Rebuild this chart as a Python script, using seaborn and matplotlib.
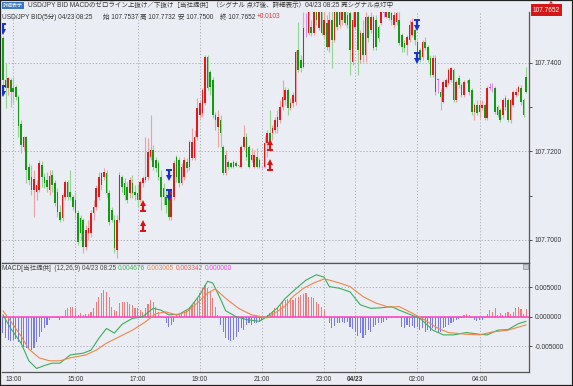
import numpy as np
import pandas as pd
import matplotlib
matplotlib.use('Agg')
import matplotlib.pyplot as plt
import matplotlib.patches as mpatches
import seaborn as sns

# 5-minute USD/JPY BID candles, first bar 04/22 12:40
opens = [107.7455, 107.7361, 107.7343, 107.7361, 107.7343, 107.7345, 107.7322, 107.7261, 107.7210, 107.7232,
         107.7164, 107.7142, 107.7113, 107.7108, 107.7113, 107.7169, 107.7142, 107.7135, 107.7113, 107.7146,
         107.7128, 107.7108, 107.7063, 107.7049, 107.7097, 107.7131, 107.7108, 107.7097, 107.7090, 107.7061,
         107.7049, 107.7045, 107.6984, 107.7016, 107.7016, 107.7061, 107.7074, 107.7097, 107.7124, 107.7142,
         107.7151, 107.7106, 107.7067, 107.7045, 107.6977, 107.7045, 107.7142, 107.7128, 107.7119, 107.7106,
         107.7128, 107.7108, 107.7106, 107.7090, 107.7128, 107.7135, 107.7142, 107.7187, 107.7203, 107.7180,
         107.7173, 107.7142, 107.7117, 107.7097, 107.7095, 107.7052, 107.7097, 107.7187, 107.7180, 107.7128,
         107.7142, 107.7176, 107.7164, 107.7185, 107.7185, 107.7232, 107.7282, 107.7286, 107.7309, 107.7412,
         107.7379, 107.7361, 107.7282, 107.7255, 107.7270, 107.7210, 107.7151, 107.7176, 107.7173, 107.7176,
         107.7173, 107.7167, 107.7164, 107.7210, 107.7232, 107.7210, 107.7180, 107.7164, 107.7187, 107.7180,
         107.7164, 107.7164, 107.7219, 107.7241, 107.7241, 107.7248, 107.7255, 107.7270, 107.7300, 107.7316,
         107.7338, 107.7297, 107.7309, 107.7311, 107.7428, 107.7406, 107.7390, 107.7473, 107.7467, 107.7480,
         107.7467, 107.7514, 107.7478, 107.7514, 107.7462, 107.7489, 107.7435, 107.7496, 107.7451, 107.7514,
         107.7485, 107.7496, 107.7514, 107.7507, 107.7512, 107.7401, 107.7480, 107.7514, 107.7406, 107.7467,
         107.7417, 107.7503, 107.7473, 107.7433, 107.7496, 107.7480, 107.7489, 107.7512, 107.7503, 107.7514,
         107.7512, 107.7485, 107.7491, 107.7496, 107.7462, 107.7444, 107.7440, 107.7451, 107.7462, 107.7473,
         107.7446, 107.7428, 107.7412, 107.7446, 107.7435, 107.7410, 107.7372, 107.7410, 107.7361, 107.7334,
         107.7311, 107.7345, 107.7354, 107.7361, 107.7383, 107.7316, 107.7365, 107.7349, 107.7327, 107.7358,
         107.7361, 107.7338, 107.7288, 107.7304, 107.7288, 107.7297, 107.7304, 107.7275, 107.7343, 107.7349,
         107.7343, 107.7300, 107.7293, 107.7282, 107.7320, 107.7316, 107.7270, 107.7304, 107.7327, 107.7334,
         107.7343, 107.7316, 107.7367]
closes = [107.7361, 107.7343, 107.7365, 107.7334, 107.7334, 107.7322, 107.7257, 107.7214, 107.7232, 107.7158,
          107.7135, 107.7113, 107.7137, 107.7124, 107.7173, 107.7142, 107.7128, 107.7119, 107.7144, 107.7124,
          107.7083, 107.7063, 107.7045, 107.7101, 107.7131, 107.7097, 107.7097, 107.7074, 107.7061, 107.6995,
          107.7016, 107.6984, 107.7022, 107.7027, 107.7061, 107.7074, 107.7117, 107.7142, 107.7151, 107.7153,
          107.7106, 107.7040, 107.7045, 107.6982, 107.7045, 107.7146, 107.7119, 107.7101, 107.7090, 107.7135,
          107.7106, 107.7101, 107.7090, 107.7131, 107.7140, 107.7142, 107.7198, 107.7203, 107.7164, 107.7162,
          107.7142, 107.7097, 107.7097, 107.7079, 107.7052, 107.7113, 107.7173, 107.7142, 107.7128, 107.7164,
          107.7180, 107.7162, 107.7221, 107.7221, 107.7232, 107.7297, 107.7309, 107.7338, 107.7412, 107.7343,
          107.7345, 107.7282, 107.7270, 107.7277, 107.7241, 107.7151, 107.7192, 107.7164, 107.7164, 107.7164,
          107.7167, 107.7167, 107.7210, 107.7232, 107.7187, 107.7164, 107.7192, 107.7192, 107.7164, 107.7164,
          107.7164, 107.7219, 107.7241, 107.7221, 107.7252, 107.7270, 107.7277, 107.7300, 107.7322, 107.7338,
          107.7297, 107.7309, 107.7327, 107.7424, 107.7383, 107.7388, 107.7478, 107.7473, 107.7514, 107.7467,
          107.7514, 107.7496, 107.7514, 107.7467, 107.7496, 107.7435, 107.7496, 107.7451, 107.7514, 107.7480,
          107.7514, 107.7514, 107.7489, 107.7485, 107.7428, 107.7496, 107.7514, 107.7428, 107.7467, 107.7417,
          107.7503, 107.7455, 107.7503, 107.7503, 107.7435, 107.7455, 107.7514, 107.7512, 107.7514, 107.7500,
          107.7496, 107.7507, 107.7512, 107.7444, 107.7435, 107.7433, 107.7458, 107.7485, 107.7491, 107.7451,
          107.7421, 107.7406, 107.7446, 107.7433, 107.7406, 107.7372, 107.7410, 107.7334, 107.7361, 107.7322,
          107.7356, 107.7361, 107.7383, 107.7388, 107.7316, 107.7356, 107.7349, 107.7327, 107.7356, 107.7358,
          107.7334, 107.7288, 107.7304, 107.7286, 107.7304, 107.7304, 107.7275, 107.7343, 107.7343, 107.7349,
          107.7288, 107.7282, 107.7270, 107.7316, 107.7300, 107.7270, 107.7316, 107.7334, 107.7334, 107.7345,
          107.7311, 107.7282, 107.7334]
highs = [107.7460, 107.7399, 107.7367, 107.7365, 107.7367, 107.7349, 107.7327, 107.7270, 107.7234, 107.7234,
         107.7173, 107.7169, 107.7158, 107.7135, 107.7180, 107.7178, 107.7151, 107.7153, 107.7158, 107.7158,
         107.7135, 107.7117, 107.7079, 107.7106, 107.7135, 107.7135, 107.7158, 107.7101, 107.7108, 107.7067,
         107.7056, 107.7049, 107.7034, 107.7045, 107.7067, 107.7090, 107.7124, 107.7153, 107.7153, 107.7162,
         107.7158, 107.7113, 107.7074, 107.7056, 107.7056, 107.7153, 107.7146, 107.7140, 107.7131, 107.7142,
         107.7146, 107.7124, 107.7124, 107.7135, 107.7144, 107.7232, 107.7230, 107.7282, 107.7214, 107.7187,
         107.7180, 107.7158, 107.7128, 107.7113, 107.7101, 107.7117, 107.7180, 107.7192, 107.7187, 107.7173,
         107.7187, 107.7185, 107.7225, 107.7252, 107.7248, 107.7320, 107.7316, 107.7343, 107.7417, 107.7417,
         107.7383, 107.7367, 107.7288, 107.7293, 107.7282, 107.7214, 107.7203, 107.7180, 107.7176, 107.7180,
         107.7178, 107.7169, 107.7214, 107.7259, 107.7241, 107.7214, 107.7207, 107.7203, 107.7207, 107.7185,
         107.7167, 107.7234, 107.7248, 107.7293, 107.7259, 107.7277, 107.7293, 107.7316, 107.7361, 107.7345,
         107.7343, 107.7320, 107.7334, 107.7428, 107.7491, 107.7417, 107.7514, 107.7512, 107.7530, 107.7496,
         107.7530, 107.7530, 107.7530, 107.7530, 107.7530, 107.7507, 107.7518, 107.7530, 107.7530, 107.7530,
         107.7530, 107.7530, 107.7523, 107.7530, 107.7530, 107.7514, 107.7530, 107.7530, 107.7473, 107.7496,
         107.7514, 107.7507, 107.7514, 107.7507, 107.7507, 107.7485, 107.7530, 107.7530, 107.7530, 107.7530,
         107.7523, 107.7518, 107.7523, 107.7514, 107.7467, 107.7451, 107.7462, 107.7496, 107.7500, 107.7478,
         107.7451, 107.7433, 107.7451, 107.7458, 107.7440, 107.7417, 107.7417, 107.7417, 107.7365, 107.7343,
         107.7361, 107.7365, 107.7388, 107.7390, 107.7388, 107.7361, 107.7372, 107.7354, 107.7361, 107.7361,
         107.7365, 107.7343, 107.7309, 107.7316, 107.7316, 107.7316, 107.7309, 107.7347, 107.7354, 107.7354,
         107.7347, 107.7304, 107.7297, 107.7320, 107.7327, 107.7320, 107.7320, 107.7338, 107.7343, 107.7349,
         107.7349, 107.7320, 107.7390]
lows = [107.7349, 107.7297, 107.7327, 107.7300, 107.7309, 107.7316, 107.7232, 107.7196, 107.7203, 107.7128,
        107.7124, 107.7101, 107.7052, 107.7090, 107.7108, 107.7119, 107.7117, 107.7108, 107.7101, 107.7108,
        107.7077, 107.7052, 107.7040, 107.7043, 107.7090, 107.7090, 107.7090, 107.7067, 107.7049, 107.6989,
        107.7000, 107.6970, 107.6977, 107.7000, 107.7007, 107.7045, 107.7067, 107.7090, 107.7113, 107.7135,
        107.7097, 107.7034, 107.7040, 107.6970, 107.6959, 107.7040, 107.7108, 107.7090, 107.7083, 107.7095,
        107.7095, 107.7090, 107.7074, 107.7086, 107.7119, 107.7131, 107.7135, 107.7180, 107.7158, 107.7153,
        107.7135, 107.7067, 107.7079, 107.7061, 107.7045, 107.7045, 107.7090, 107.7131, 107.7119, 107.7124,
        107.7135, 107.7153, 107.7158, 107.7180, 107.7180, 107.7225, 107.7275, 107.7277, 107.7304, 107.7338,
        107.7327, 107.7275, 107.7248, 107.7210, 107.7210, 107.7146, 107.7146, 107.7158, 107.7162, 107.7162,
        107.7164, 107.7164, 107.7162, 107.7203, 107.7180, 107.7162, 107.7176, 107.7162, 107.7162, 107.7162,
        107.7162, 107.7162, 107.7187, 107.7214, 107.7225, 107.7241, 107.7241, 107.7264, 107.7293, 107.7304,
        107.7282, 107.7293, 107.7300, 107.7304, 107.7379, 107.7379, 107.7388, 107.7458, 107.7462, 107.7460,
        107.7462, 107.7485, 107.7473, 107.7462, 107.7455, 107.7428, 107.7424, 107.7388, 107.7446, 107.7473,
        107.7478, 107.7485, 107.7485, 107.7478, 107.7372, 107.7394, 107.7473, 107.7372, 107.7399, 107.7401,
        107.7401, 107.7446, 107.7467, 107.7428, 107.7428, 107.7446, 107.7485, 107.7503, 107.7500, 107.7496,
        107.7485, 107.7478, 107.7485, 107.7440, 107.7424, 107.7424, 107.7417, 107.7446, 107.7458, 107.7440,
        107.7399, 107.7401, 107.7406, 107.7428, 107.7401, 107.7367, 107.7367, 107.7327, 107.7331, 107.7293,
        107.7309, 107.7343, 107.7349, 107.7356, 107.7311, 107.7311, 107.7343, 107.7322, 107.7322, 107.7354,
        107.7327, 107.7282, 107.7270, 107.7282, 107.7275, 107.7293, 107.7270, 107.7270, 107.7338, 107.7334,
        107.7284, 107.7277, 107.7266, 107.7275, 107.7293, 107.7266, 107.7264, 107.7300, 107.7322, 107.7327,
        107.7304, 107.7277, 107.7331]

# MACD histogram, one bar per candle
hist = [-0.00284, -0.00369, -0.00397, -0.00414, -0.00397, -0.00380, -0.00425, -0.00471, -0.00510, -0.00539,
        -0.00550, -0.00567, -0.00539, -0.00437, -0.00340, -0.00266, -0.00198, -0.00142, -0.00057, -0.00017,
        -0.00006, -0.00028, -0.00057, 0.00017, 0.00113, 0.00153, 0.00159, 0.00159, 0.00142, 0.00028,
        0.00057, 0.00028, 0.00040, 0.00040, 0.00074, 0.00142, 0.00255, 0.00340, 0.00397, 0.00454,
        0.00425, 0.00340, 0.00170, 0.00113, 0.00096, 0.00227, 0.00255, 0.00255, 0.00255, 0.00210,
        0.00198, 0.00153, 0.00142, 0.00113, 0.00085, 0.00142, 0.00210, 0.00284, 0.00255, 0.00170,
        0.00085, 0.00017, -0.00028, -0.00113, -0.00170, -0.00142, -0.00085, 0.00028, 0.00040, 0.00057,
        0.00085, 0.00113, 0.00170, 0.00198, 0.00255, 0.00312, 0.00397, 0.00482, 0.00539, 0.00482,
        0.00425, 0.00312, 0.00170, 0.00028, -0.00142, -0.00255, -0.00357, -0.00397, -0.00414, -0.00397,
        -0.00340, -0.00266, -0.00187, -0.00227, -0.00142, -0.00113, -0.00142, -0.00113, -0.00113, -0.00085,
        -0.00057, -0.00028, 0.00028, 0.00057, 0.00096, 0.00142, 0.00170, 0.00198, 0.00255, 0.00284,
        0.00301, 0.00312, 0.00284, 0.00323, 0.00340, 0.00369, 0.00380, 0.00397, 0.00340, 0.00340,
        0.00312, 0.00255, 0.00210, 0.00170, 0.00113, -0.00028, -0.00113, -0.00187, -0.00153, -0.00113,
        -0.00113, -0.00085, -0.00113, -0.00085, -0.00170, -0.00210, -0.00255, -0.00323, -0.00284, -0.00369,
        -0.00312, -0.00227, -0.00255, -0.00170, -0.00142, -0.00113, -0.00113, -0.00085, -0.00057, -0.00028,
        -0.00017, -0.00006, 0.00011, 0.00000, -0.00170, -0.00198, -0.00142, -0.00170, -0.00153, -0.00187,
        -0.00170, -0.00227, -0.00198, -0.00255, -0.00227, -0.00244, -0.00187, -0.00227, -0.00284, -0.00255,
        -0.00198, -0.00170, -0.00142, -0.00113, -0.00085, -0.00057, -0.00045, -0.00017, 0.00028, 0.00040,
        0.00028, -0.00028, -0.00057, -0.00074, -0.00057, -0.00057, -0.00017, 0.00040, 0.00113, 0.00085,
        0.00142, 0.00028, 0.00057, 0.00028, 0.00057, 0.00085, 0.00040, 0.00085, 0.00142, 0.00170,
        0.00130, 0.00040, 0.00125]

# MACD (12) and signal (9) lines, read at these bar numbers
macd_bar = [0, 3, 7, 10, 13, 16, 19, 22, 26, 31, 34, 37, 40, 43, 46, 50, 54, 58, 61, 64,
            68, 72, 76, 79, 81, 84, 86, 90, 94, 99, 102, 106, 109, 113, 117, 121, 124, 126, 130, 134,
            138, 142, 146, 150, 153, 157, 161, 166, 170, 174, 179, 184, 187, 191, 195, 199, 202]
macd_line = [0.0003, -0.0020, -0.0045, -0.0075, -0.0088, -0.0083, -0.0079, -0.0079, -0.0065, -0.0062,
             -0.0057, -0.0037, -0.0020, -0.0028, -0.0013, -0.0003, 0.0000, 0.0014, 0.0011, 0.0003,
             0.0004, 0.0014, 0.0037, 0.0060, 0.0057, 0.0030, 0.0010, 0.0000, -0.0005, -0.0008,
             0.0000, 0.0015, 0.0031, 0.0047, 0.0062, 0.0071, 0.0067, 0.0051, 0.0048, 0.0042,
             0.0020, 0.0014, 0.0015, 0.0017, 0.0011, 0.0004, -0.0003, -0.0023, -0.0031, -0.0031,
             -0.0027, -0.0030, -0.0031, -0.0023, -0.0022, -0.0012, -0.0008]
signal_bar = [0, 3, 7, 10, 14, 18, 22, 26, 32, 36, 40, 45, 50, 55, 59, 63, 67, 71, 75, 79,
              82, 86, 91, 96, 102, 106, 109, 112, 116, 120, 124, 126, 130, 134, 139, 144, 149, 153, 158, 163,
              168, 172, 179, 184, 189, 195, 202]
signal_line = [0.0010, -0.0008, -0.0033, -0.0055, -0.0070, -0.0075, -0.0075, -0.0070, -0.0065, -0.0057,
               -0.0045, -0.0034, -0.0023, -0.0009, 0.0005, 0.0008, 0.0003, 0.0008, 0.0023, 0.0040,
               0.0047, 0.0031, 0.0014, 0.0003, -0.0002, 0.0009, 0.0018, 0.0034, 0.0048, 0.0057,
               0.0064, 0.0062, 0.0057, 0.0051, 0.0034, 0.0023, 0.0016, 0.0017, 0.0006, -0.0006,
               -0.0020, -0.0027, -0.0030, -0.0031, -0.0026, -0.0023, -0.0014]

# signal arrows (bar number, price)
sell_bar = [0, 0, 64, 64, 160, 160]
sell_price = [107.7478, 107.7338, 107.7149, 107.7104, 107.7487, 107.7412]
buy_bar = [54, 54, 103, 103]
buy_price = [107.7074, 107.7029, 107.7212, 107.7167]

# hours that get a time label (midnight shows the date)
tick_hours = [13, 15, 17, 19, 21, 23, 0, 2, 4]

W, H = 573, 386
BG = '#eaedf3'
FS = 4.7
sns.set_style('white', {'axes.facecolor': BG, 'figure.facecolor': BG})
plt.rcParams['font.family'] = ['Liberation Sans', 'Noto Sans CJK JP', 'DejaVu Sans']
plt.rcParams['font.size'] = FS

fig = plt.figure(figsize=(W / 100, H / 100), dpi=100)
renderer = fig.canvas.get_renderer()


def px_rect(x0, y0, x1, y1):
    return [x0 / W, 1 - y1 / H, (x1 - x0) / W, (y1 - y0) / H]


def ftext(x, y, s, **kw):
    return fig.text(x / W, 1 - y / H, s, va='center', ha='left', **kw)


def chain(x, y, parts, gap=2.0):
    # lay coloured pieces of one line side by side
    for s, c in parts:
        t = ftext(x, y, s, color=c, fontsize=FS)
        x = t.get_window_extent(renderer).x1 + gap


ax = fig.add_axes(px_rect(2, 12, 529, 263))
ax2 = fig.add_axes(px_rect(2, 263, 529, 372))

df = pd.DataFrame({'open': opens, 'high': highs, 'low': lows, 'close': closes})
df['time'] = pd.date_range('2020-04-22 12:40', periods=len(df), freq='5min')
pos = np.arange(len(df))

up = df.close > df.open
dn = df.close < df.open
body_col = np.where(up, '#e01a1a', np.where(dn, '#129a12', '#d050e0'))
wick_col = np.where(up, '#eea3a3', np.where(dn, '#93d493', '#e090f0'))
body_lo = np.minimum(df.open, df.close)
body_h = np.maximum(np.abs(df.close - df.open), 0.00012)

ax.vlines(pos, df.low, df.high, colors=wick_col, lw=0.8, zorder=2)
ax.bar(pos, body_h, bottom=body_lo, width=0.62, color=body_col, linewidth=0, zorder=3)


def arrow(x, yc, direction, color):
    half = 0.0009
    tail, head = (yc + half, yc - half) if direction == 'down' else (yc - half, yc + half)
    ax.plot([x, x], [tail, head], color=color, lw=1.6, zorder=5, solid_capstyle='butt')
    ax.plot(x, head, marker='v' if direction == 'down' else '^', ms=4, color=color, mew=0, zorder=5)
    ax.plot(x, tail, marker='_', ms=4, mew=1.4, color=color, zorder=5)


for b, p in zip(sell_bar, sell_price):
    arrow(b, p, 'down', '#1430d8')
for b, p in zip(buy_bar, buy_price):
    arrow(b, p, 'up', '#e01010')

tick_mask = (df.time.dt.minute == 0) & df.time.dt.hour.isin(tick_hours)
tick_pos = pos[tick_mask.values]
tick_lab = [t.strftime('%m/%d') if t.hour == 0 else t.strftime('%H:%M') for t in df.time[tick_mask]]

grid_kw = dict(linestyle=(0, (1.2, 2)), color='#a8acb4', lw=0.7)
for a in (ax, ax2):
    a.set_xlim(-0.36, 203.1)
    a.set_xticks(tick_pos)
    a.grid(True, axis='x', **grid_kw)
    a.grid(True, axis='y', which='major', **grid_kw)
    a.set_axisbelow(True)
    a.yaxis.tick_right()
    a.tick_params(axis='y', which='both', direction='out', length=2.5, width=0.6,
                  colors='#333333', labelsize=FS, pad=1.5)
    a.spines['left'].set_visible(False)
    for s in ('right', 'bottom', 'top'):
        a.spines[s].set_color('#555555')
        a.spines[s].set_linewidth(0.9)

ax.spines['top'].set_visible(False)
ax.set_ylim(107.6948, 107.7514)
ax.set_yticks([107.70, 107.72, 107.74])
ax.set_yticks([107.71, 107.73], minor=True)
ax.set_yticklabels(['107.7000', '107.7200', '107.7400'])
ax.tick_params(axis='x', length=0, labelbottom=False)

# MACD panel
ax2.bar(pos, hist, width=0.42, color=np.where(np.array(hist) >= 0, '#f07a7a', '#7878f0'), linewidth=0, zorder=2)
ax2.axhline(0, color='#ff3ec8', lw=1.1, zorder=3)
sns.lineplot(x=macd_bar, y=macd_line, ax=ax2, color='#3cae5a', lw=0.8, zorder=4)
sns.lineplot(x=signal_bar, y=signal_line, ax=ax2, color='#f0864a', lw=0.8, zorder=4)
ax2.set_ylim(-0.0094, 0.0091)
ax2.set_yticks([-0.005, 0.0, 0.005])
ax2.set_yticklabels(['-0.005000', '0.000000', '0.005000'])
ax2.set_xticklabels(tick_lab)
ax2.tick_params(axis='x', length=0, labelsize=FS, colors='#333333', pad=3.2)
for lab in ax2.get_xticklabels():
    if '/' in lab.get_text():
        lab.set_fontweight('bold')
ax2.set_xlabel('')
ax2.set_ylabel('')

# header texts
ftext(3, 5, '詳細表示', color='white', fontsize=3.6,
      bbox=dict(boxstyle='square,pad=0.2', fc='#3a78c2', ec='none'))
ftext(28, 5.5, 'USD/JPY BID MACDのゼロライン上抜け／下抜け［当社提供］（シグナル 点灯後、詳細表示）04/23 08:25 売シグナル点灯中',
      color='#333333', fontsize=FS)
for s, x, c in [('USD/JPY BID(5分) 04/23 08:25', 2, '#333333'), ('始 107.7537', 103, '#333333'),
                ('高 107.7732', 140.5, '#333333'), ('安 107.7500', 178, '#333333'),
                ('終 107.7652', 220, '#333333'), ('+0.0103', 257, '#e03a3a')]:
    ftext(x, 17, s, color=c, fontsize=FS)

chain(2, 268.5, [('MACD[当社提供]  (12,26,9) 04/23 08:25', '#444444'), ('0.004676', '#3cae5a'),
                 ('0.003005', '#f0864a'), ('0.003342', '#f05a5a'), ('0.000000', '#f040e0')], gap=1.8)

# last price tag
ftext(533, 10, '107.7652', color='white', fontsize=FS,
      bbox=dict(boxstyle='square,pad=0.35', fc='#d41818', ec='none'))
fig.add_artist(mpatches.Polygon([[549 / W, 1 - 3.5 / H], [553 / W, 1 - 3.5 / H], [551 / W, 1 - 1 / H]],
                                closed=True, transform=fig.transFigure, fc='#d41818', ec='none'))
# small close box on MACD panel
fig.add_artist(mpatches.Rectangle((523 / W, 1 - 269 / H), 5 / W, 5 / H, transform=fig.transFigure,
                                  fc='#c6cad2', ec='#8a8e96', lw=0.5))
# outer frame
fig.add_artist(mpatches.Rectangle((0, 0), 1, 1, transform=fig.transFigure, fill=False,
                                  ec='#222222', lw=1.6))

fig.savefig('out.png', dpi=100, facecolor=BG)
